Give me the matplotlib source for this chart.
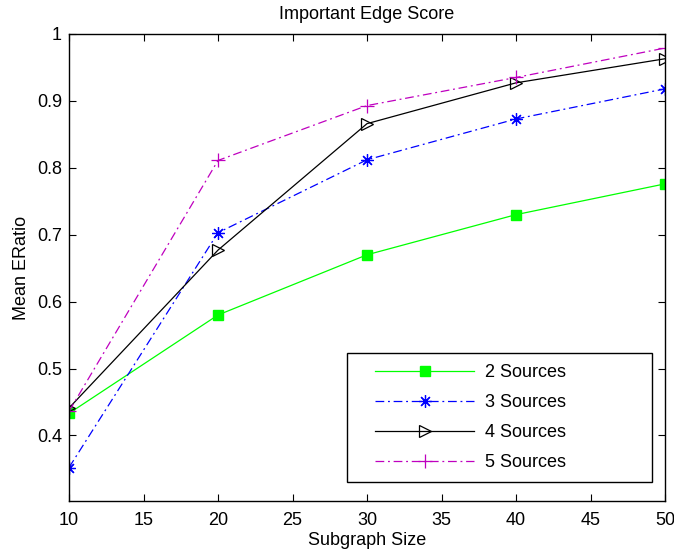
import numpy as np
import matplotlib
matplotlib.use('Agg')
import matplotlib.pyplot as plt
from matplotlib.legend_handler import HandlerLine2D

plt.rcParams['font.family'] = ['Liberation Sans', 'DejaVu Sans']
plt.rcParams['font.size'] = 13

# data
size = [10, 20, 30, 40, 50]
src2 = [0.433, 0.580, 0.670, 0.730, 0.776]
src3 = [0.352, 0.703, 0.812, 0.873, 0.918]
src4 = [0.441, 0.677, 0.866, 0.927, 0.963]
src5 = [0.436, 0.811, 0.893, 0.935, 0.979]
labels = ['2 Sources', '3 Sources', '4 Sources', '5 Sources']

fig = plt.figure(figsize=(6.74, 5.52), dpi=100)
ax = fig.add_axes([69/674, 51/552, 596/674, 467/552])

dd = (7, 3, 1.5, 3)
l2, = ax.plot(size, src2, color=(0, 1, 0), lw=0.9, marker='s', ms=7,
              mfc=(0, 1, 0), mec=(0, 1, 0), label=labels[0])
l3, = ax.plot(size, src3, color='b', lw=0.9, dashes=dd, marker=(8, 2, 0), ms=9,
              mec='b', mew=0.9, label=labels[1])
l4, = ax.plot(size, src4, color='k', lw=0.9, marker='>', ms=9, mfc='none',
              mec='k', mew=0.9, label=labels[2])
l5, = ax.plot(size, src5, color='m', lw=0.9, dashes=dd, marker='+', ms=10,
              mew=0.9, label=labels[3])

ax.set_xlim(10, 50)
ax.set_ylim(0.302, 1.0)
ax.set_xticks(range(10, 51, 5))
ax.set_yticks([0.4, 0.5, 0.6, 0.7, 0.8, 0.9, 1.0])
ax.set_yticklabels(['0.4', '0.5', '0.6', '0.7', '0.8', '0.9', '1'])
ax.tick_params(direction='in', top=True, right=True, length=5, width=0.8,
               labelsize=13)
ax.tick_params(axis='x', pad=8)
ax.tick_params(axis='y', pad=5)
for s in ax.spines.values():
    s.set_linewidth(1.0)

ax.set_title('Important Edge Score', fontsize=13, pad=11)
ax.set_xlabel('Subgraph Size', fontsize=13, labelpad=2)
ax.set_ylabel('Mean ERatio', fontsize=13, labelpad=5)

x0, y0 = 347/674, 1 - 478/552
w, h = 305/674, 125/552
hm = {h_: HandlerLine2D(xpad=0.95) for h_ in (l2, l3, l4, l5)}
leg = ax.legend(loc='upper left', bbox_to_anchor=(x0, y0, w, h),
                bbox_transform=fig.transFigure, mode='expand',
                fancybox=False, edgecolor='k', framealpha=1, fontsize=13,
                handlelength=6.4, labelspacing=0.72, borderpad=0.62,
                handletextpad=0.6, borderaxespad=0, handler_map=hm)
leg.get_frame().set_linewidth(1.0)

fig.savefig('out.png', dpi=100)
